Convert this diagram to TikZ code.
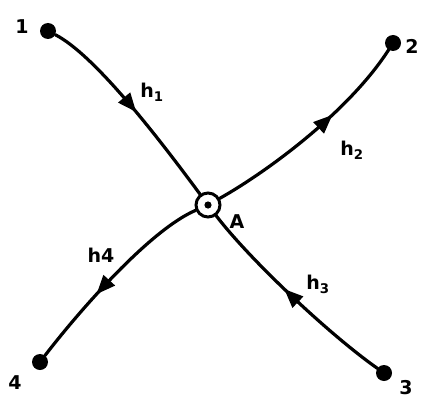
\documentclass[tikz,border=0pt]{standalone}
\usepackage{fontspec}
\setmainfont{DejaVu Sans}
\usetikzlibrary{decorations.markings,arrows.meta}
\begin{document}
\begin{tikzpicture}[x=1pt,y=-1pt,
  edge/.style={line width=3.2pt, line cap=round},
  midarrow/.style={postaction={decorate},decoration={markings,
    mark=at position #1 with {\arrow{Triangle[length=19pt,width=15pt]}}}},
  enddot/.style={circle, fill=black, inner sep=0pt, minimum size=16pt},
  lbl/.style={font=\bfseries\fontsize{19}{19}\selectfont, inner sep=0pt}]
\useasboundingbox (0,0) rectangle (422,401);
\node[enddot] (p1) at (48,31) {};
\node[enddot] (p2) at (393,43) {};
\node[enddot] (p3) at (384,373) {};
\node[enddot] (p4) at (40,362) {};
\node[circle, draw, line width=3pt, minimum size=24pt, inner sep=0pt] (A) at (208,205) {};
\fill (A.center) circle (3.6pt);
\draw[edge, midarrow=0.52] (p1) .. controls (95,55) and (160,140) .. (A);
\draw[edge, midarrow=0.62] (A) .. controls (270,170) and (350,110) .. (p2);
\draw[edge, midarrow=0.55] (p3) .. controls (330,335) and (250,260) .. (A);
\draw[edge, midarrow=0.62] (A) .. controls (150,230) and (80,310) .. (p4);
\node[lbl] (l1) at (22,27) {1};
\node[lbl] (l2) at (412,46) {2};
\node[lbl] (l3) at (406,388) {3};
\node[lbl] (l4) at (15,383) {4};
\node[lbl] (lA) at (237,222) {A};
\node[lbl] (h1) at (152,92) {h\textsubscript{1}};
\node[lbl] (h2) at (352,150) {h\textsubscript{2}};
\node[lbl] (h3) at (318,284) {h\textsubscript{3}};
\node[lbl] (h4) at (101,255) {h4};
\end{tikzpicture}
\end{document}
